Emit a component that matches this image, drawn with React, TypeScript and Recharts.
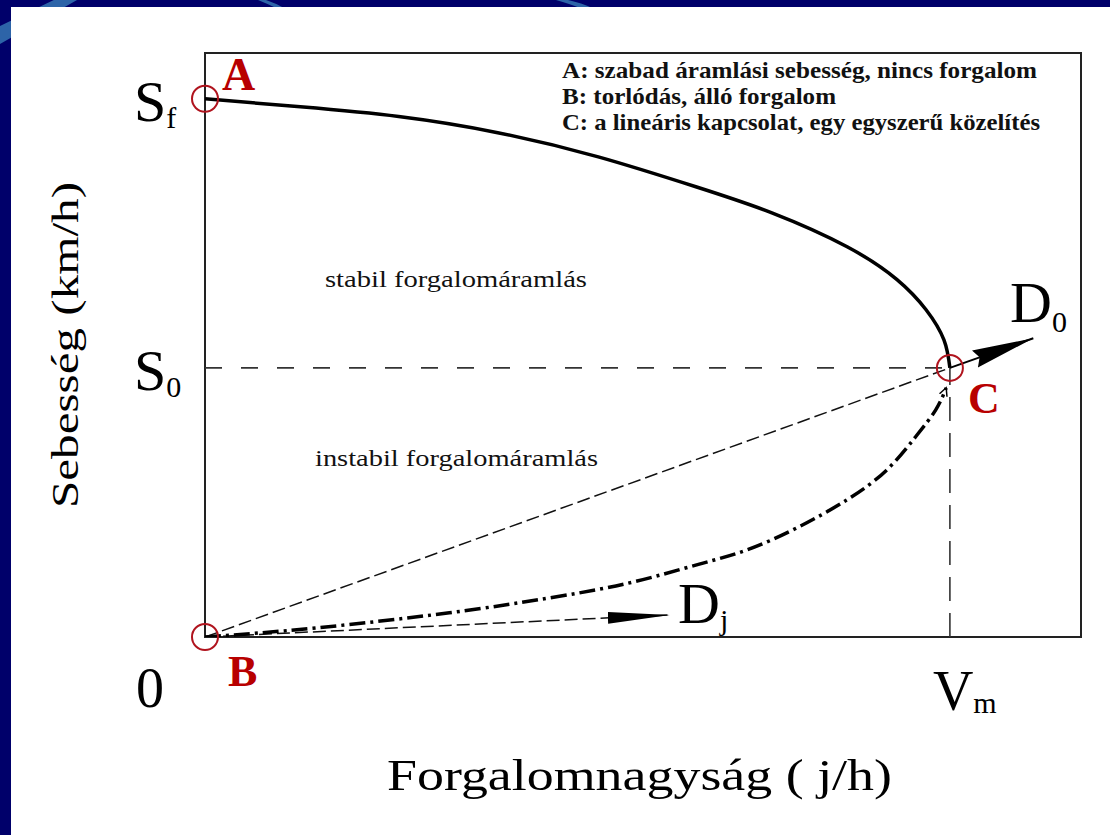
import React from 'react';
import {
  ComposedChart,
  Line,
  XAxis,
  YAxis,
  ReferenceLine,
  ReferenceDot,
  ReferenceArea,
  Customized,
} from 'recharts';

// ---------------- data ----------------
// flow axis: Vm = 100, speed axis: Sf = 100
const X_MAX = 117.6; // right edge of the frame
const Y_MAX = 108.5; // top edge of the frame
const V_M = 100; // capacity flow (Vm)
const S_F = 100; // free-flow speed (Sf)
const S_0 = 50; // speed at capacity (S0)

// stable branch A -> C (solid)
const stableFlow = [0, 12.8, 26.0, 39.3, 52.8, 66.0, 76.1, 86.2, 92.9, 96.8, 99.2, 100];
const stableSpeed = [100, 98.5, 96.7, 93.7, 89.2, 83.6, 78.8, 72.5, 66.4, 60.8, 55.2, 50];

// unstable branch B -> C (dash-dot)
const unstableFlow = [0, 15.0, 32.8, 46.0, 56.8, 66.0, 72.8, 79.5, 86.2, 91.5, 95.4, 98.1, 99.5];
const unstableSpeed = [0, 1.7, 4.5, 7.2, 10.0, 13.4, 16.2, 20.3, 25.5, 31.0, 37.2, 42.2, 46.3];

// linear approximation B -> C (dashed)
const linearFlow = [0, 100];
const linearSpeed = [0, 50];

// direction arrows
const d0Flow = [100, 111.2];
const d0Speed = [50, 55.5];
const djFlow = [0, 62.4];
const djSpeed = [0, 4.1];

// tick values
const flowTicks = [0, V_M];
const speedTicks = [S_0, S_F];

const legendLines = [
  'A: szabad áramlási sebesség, nincs forgalom',
  'B: torlódás, álló forgalom',
  'C: a lineáris kapcsolat, egy egyszerű közelítés',
];

const toPoints = (xs: number[], ys: number[]) => xs.map((x, i) => ({ x, y: ys[i] }));
const stableData = toPoints(stableFlow, stableSpeed);
const unstableData = toPoints(unstableFlow, unstableSpeed);
const linearData = toPoints(linearFlow, linearSpeed);
const d0Data = toPoints(d0Flow, d0Speed);
const djData = toPoints(djFlow, djSpeed);

// ---------------- styles ----------------
const FONT = '"Liberation Serif", "Times New Roman", Times, serif';
const RED = '#b80000';
const CIRCLE = '#b0141e';
const NAVY = '#00006a';
const STRIPE = '#2d64a8';

const SpeedTick = (props: any) => {
  const { y, payload } = props;
  const sub = payload.value === S_F ? 'f' : '0';
  return (
    <text x={134} y={y + 22} fontFamily={FONT} fontSize={58} fill="#000">
      S
      <tspan fontSize={30} dy={7}>
        {sub}
      </tspan>
    </text>
  );
};

const FlowTick = (props: any) => {
  const { x, payload } = props;
  if (payload.value === 0) {
    return (
      <text x={x - 69} y={707} fontFamily={FONT} fontSize={56} fill="#000">
        0
      </text>
    );
  }
  return (
    <text x={x - 17} y={710} fontFamily={FONT} fontSize={56} fill="#000">
      V
      <tspan fontSize={30} dy={3}>
        m
      </tspan>
    </text>
  );
};

const Annotations = () => (
  <g>
    <defs>
      <marker
        id="arrowDj"
        markerUnits="userSpaceOnUse"
        markerWidth={64}
        markerHeight={14}
        refX={62}
        refY={6}
        orient="auto"
      >
        <path d="M0,0 L62,6 L0,12 Z" fill="#000" />
      </marker>
      <marker
        id="arrowD0"
        markerUnits="userSpaceOnUse"
        markerWidth={64}
        markerHeight={20}
        refX={62}
        refY={9}
        orient="auto"
      >
        <path d="M0,0 L62,9 L0,18 L5,9 Z" fill="#000" />
      </marker>
      <marker
        id="hook"
        markerUnits="userSpaceOnUse"
        markerWidth={10}
        markerHeight={10}
        refX={8}
        refY={5}
        orient="auto"
      >
        <path d="M0,1 L8,5 L0,9" fill="none" stroke="#000" strokeWidth={1.5} />
      </marker>
    </defs>

    {/* legend box texts */}
    {legendLines.map((t, i) => (
      <text
        key={t}
        x={562}
        y={78 + i * 26}
        fontFamily={FONT}
        fontWeight="bold"
        fontSize={24}
        fill="#111"
        textLength={[475, 274, 478][i]}
        lengthAdjust="spacingAndGlyphs"
      >
        {t}
      </text>
    ))}

    {/* regions */}
    <text
      x={325}
      y={287}
      fontFamily={FONT}
      fontSize={24}
      fill="#111"
      textLength={262}
      lengthAdjust="spacingAndGlyphs"
    >
      stabil forgalomáramlás
    </text>
    <text
      x={315}
      y={466}
      fontFamily={FONT}
      fontSize={24}
      fill="#111"
      textLength={283}
      lengthAdjust="spacingAndGlyphs"
    >
      instabil forgalomáramlás
    </text>

    {/* axis titles */}
    <text
      transform="translate(78,345) rotate(-90)"
      x={0}
      y={0}
      textAnchor="middle"
      fontFamily={FONT}
      fontSize={38}
      fill="#000"
      textLength={326}
      lengthAdjust="spacingAndGlyphs"
    >
      Sebesség (km/h)
    </text>
    <text
      x={387}
      y={790}
      fontFamily={FONT}
      fontSize={44}
      fill="#000"
      textLength={505}
      lengthAdjust="spacingAndGlyphs"
    >
      Forgalomnagyság ( j/h)
    </text>

    {/* point letters */}
    <text x={222} y={90} fontFamily={FONT} fontWeight="bold" fontSize={46} fill={RED}>
      A
    </text>
    <text x={228} y={686} fontFamily={FONT} fontWeight="bold" fontSize={44} fill={RED}>
      B
    </text>
    <text x={968} y={413} fontFamily={FONT} fontWeight="bold" fontSize={44} fill={RED}>
      C
    </text>

    {/* direction labels */}
    <text x={1010} y={322} fontFamily={FONT} fontSize={58} fill="#000">
      D
      <tspan fontSize={30} dy={10}>
        0
      </tspan>
    </text>
    <text x={678} y={623} fontFamily={FONT} fontSize={58} fill="#000">
      D
      <tspan fontSize={30} dy={7}>
        j
      </tspan>
    </text>
  </g>
);

export default function App() {
  return (
    <div
      style={{
        position: 'absolute',
        left: 0,
        top: 0,
        width: 1110,
        height: 835,
        background: NAVY,
        overflow: 'hidden',
      }}
    >
      <svg width={1110} height={835} style={{ position: 'absolute', left: 0, top: 0 }}>
        <path d="M0,26 L62,-4 L84,-4 L0,44 Z" fill={STRIPE} />
        <path d="M258,0 Q268,4 276,8 L284,8 Q275,3 266,0 Z" fill={STRIPE} />
        <path d="M556,0 Q570,4 580,8 L592,8 Q582,3 568,0 Z" fill={STRIPE} />
        <rect x={11} y={7} width={1099} height={828} fill="#fff" />
      </svg>
      <div style={{ position: 'absolute', left: 0, top: 0 }}>
        <ComposedChart
          width={1110}
          height={835}
          margin={{ top: 53, right: 29, bottom: 197, left: 204 }}
        >
          <XAxis
            type="number"
            dataKey="x"
            domain={[0, X_MAX]}
            allowDataOverflow
            ticks={flowTicks}
            interval={0}
            axisLine={false}
            tickLine={false}
            tickSize={0}
            height={1}
            tick={<FlowTick />}
          />
          <YAxis
            type="number"
            dataKey="y"
            domain={[0, Y_MAX]}
            allowDataOverflow
            ticks={speedTicks}
            interval={0}
            axisLine={false}
            tickLine={false}
            tickSize={0}
            width={1}
            tick={<SpeedTick />}
          />
          <ReferenceArea
            x1={0}
            x2={X_MAX}
            y1={0}
            y2={Y_MAX}
            fill="none"
            fillOpacity={0}
            stroke="#222"
            strokeWidth={2}
            ifOverflow="visible"
          />
          <ReferenceLine
            segment={[
              { x: 0, y: S_0 },
              { x: V_M, y: S_0 },
            ]}
            stroke="#333"
            strokeWidth={1.6}
            strokeDasharray="17 19"
            ifOverflow="visible"
          />
          <ReferenceLine
            segment={[
              { x: V_M, y: 0 },
              { x: V_M, y: S_0 },
            ]}
            stroke="#333"
            strokeWidth={1.6}
            strokeDasharray="24 12"
            ifOverflow="visible"
          />
          <Line
            data={linearData}
            dataKey="y"
            type="linear"
            stroke="#111"
            strokeWidth={1.5}
            strokeDasharray="13 5"
            dot={false}
            activeDot={false}
            isAnimationActive={false}
          />
          <Line
            data={djData}
            dataKey="y"
            type="linear"
            stroke="#111"
            strokeWidth={1.5}
            strokeDasharray="13 5"
            dot={false}
            activeDot={false}
            markerEnd="url(#arrowDj)"
            isAnimationActive={false}
          />
          <Line
            data={unstableData}
            dataKey="y"
            type="natural"
            stroke="#000"
            strokeWidth={3.5}
            strokeDasharray="16 5 3 5"
            dot={false}
            activeDot={false}
            markerEnd="url(#hook)"
            isAnimationActive={false}
          />
          <Line
            data={stableData}
            dataKey="y"
            type="natural"
            stroke="#000"
            strokeWidth={3.5}
            dot={false}
            activeDot={false}
            isAnimationActive={false}
          />
          <Line
            data={d0Data}
            dataKey="y"
            type="linear"
            stroke="#000"
            strokeWidth={2}
            dot={false}
            activeDot={false}
            markerEnd="url(#arrowD0)"
            isAnimationActive={false}
          />
          <ReferenceDot x={0} y={S_F} r={13} fill="none" stroke={CIRCLE} strokeWidth={2} ifOverflow="visible" />
          <ReferenceDot x={0} y={0} r={13} fill="none" stroke={CIRCLE} strokeWidth={2} ifOverflow="visible" />
          <ReferenceDot x={V_M} y={S_0} r={13} fill="none" stroke={CIRCLE} strokeWidth={2} ifOverflow="visible" />
          <Customized component={<Annotations />} />
        </ComposedChart>
      </div>
    </div>
  );
}
